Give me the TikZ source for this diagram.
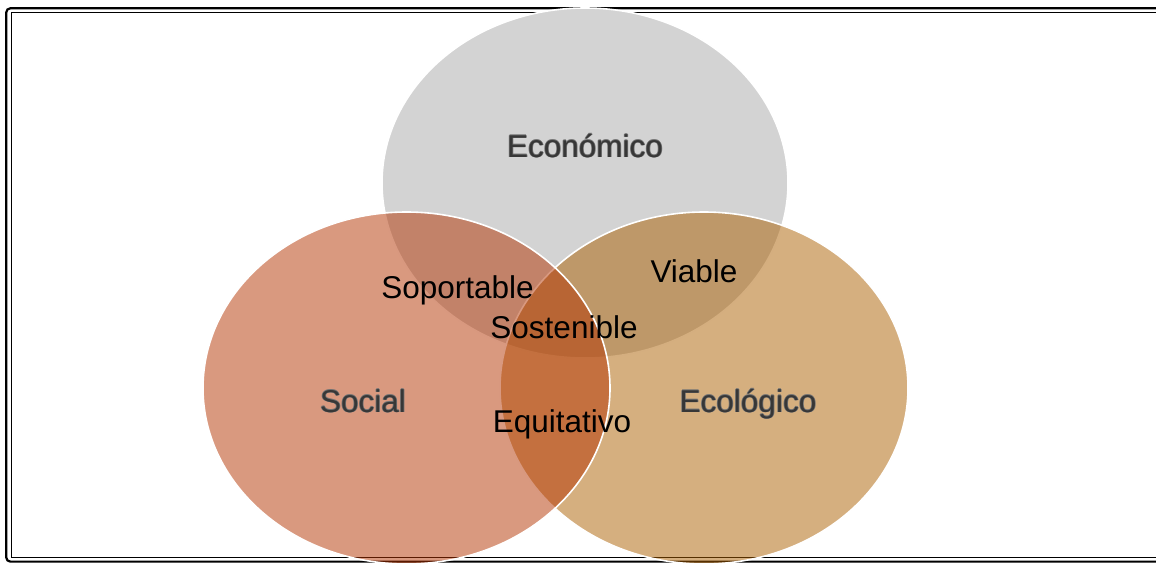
\documentclass[tikz,border=0pt]{standalone}
\usepackage{fontspec}
\setmainfont{Liberation Sans}
\usetikzlibrary{calc}
\definecolor{grayfill}{RGB}{211,211,211}
\definecolor{socfill}{RGB}{179,51,0}
\definecolor{ecofill}{RGB}{171,95,0}
\definecolor{oldark}{RGB}{55,55,55}
\definecolor{olgray}{RGB}{115,115,115}
\newcommand\olt[1]{%
 \rlap{\kern-0.75pt\textcolor{olgray}{#1}}%
 \rlap{\kern0.75pt\textcolor{olgray}{#1}}%
 \rlap{\raisebox{0.75pt}{\textcolor{olgray}{#1}}}%
 \rlap{\raisebox{-0.75pt}{\textcolor{olgray}{#1}}}%
 \textcolor{oldark}{#1}}
\tikzset{
  frameline/.style={draw=black},
  circ/.style={draw=white, line width=1.6pt},
  mainlabel/.style={font=\fontsize{31.5}{36}\selectfont, inner sep=0pt, anchor=base},
  sublabel/.style={font=\fontsize{31.5}{36}\selectfont, text=black, inner sep=0pt, anchor=base},
}
\begin{document}
\begin{tikzpicture}[x=1pt,y=-1pt]
\useasboundingbox (0,0) rectangle (1156,562);
\clip (0,0) rectangle (1156,562);
% frame
\draw[frameline, line width=2.2pt, rounded corners=4pt] (1170,8.3) -- (6.3,8.3) -- (6.3,561.6) -- (1170,561.6);
\draw[frameline, line width=1.3pt] (1170,12.2) -- (11.2,12.2) -- (11.2,557.8) -- (1170,557.8);
% ellipses
\path[circ, fill=grayfill] (585,183) ellipse [x radius=203, y radius=175];
\path[circ, fill=ecofill, fill opacity=0.5] (704,388) ellipse [x radius=204, y radius=176];
\path[circ, fill=socfill, fill opacity=0.5] (406.5,388) ellipse [x radius=203.5, y radius=176];
% labels
\node[mainlabel] (econ) at (585,157) {\olt{Económico}};
\node[mainlabel] (soc) at (363,412) {\olt{Social}};
\node[mainlabel] (eco) at (748,412) {\olt{Ecológico}};
\node[sublabel] (sop) at (457.5,298.5) {Soportable};
\node[sublabel] (sos) at (564,338.5) {Sostenible};
\node[sublabel] (via) at (694,282) {Viable};
\node[sublabel] (equ) at (562,432) {Equitativo};
\end{tikzpicture}
\end{document}
